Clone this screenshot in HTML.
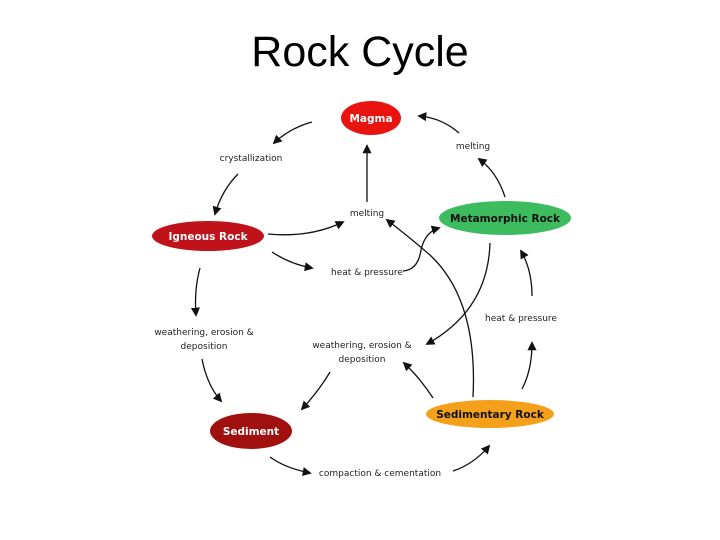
<!DOCTYPE html>
<html><head><style>
body{margin:0;background:#fff;width:720px;height:540px;overflow:hidden}
svg{display:block}
.t{font-family:"DejaVu Sans","Liberation Sans",sans-serif;font-size:9px;fill:#222}
.n{font-family:"DejaVu Sans","Liberation Sans",sans-serif;font-size:10.5px;font-weight:bold}
path.a{fill:none;stroke:#111;stroke-width:1.3;marker-end:url(#ah)}
</style></head><body>
<svg width="720" height="540" viewBox="0 0 720 540">
<defs><marker id="ah" viewBox="0 0 10 10" refX="8" refY="5" markerWidth="7" markerHeight="7" orient="auto"><path d="M0,0L10,5L0,10z" fill="#111"/></marker></defs>
<text x="360" y="66" text-anchor="middle" font-family="Liberation Sans,Arial,sans-serif" font-size="43">Rock Cycle</text>

<ellipse cx="371" cy="118" rx="30" ry="17" fill="#e8140f"/>
<text class="n" x="371" y="122" text-anchor="middle" fill="#fff">Magma</text>
<ellipse cx="208" cy="236" rx="56" ry="15" fill="#c0121a"/>
<text class="n" x="208" y="240" text-anchor="middle" fill="#fff">Igneous Rock</text>
<ellipse cx="505" cy="218" rx="66" ry="17" fill="#3dbb5f"/>
<text class="n" x="505" y="222" text-anchor="middle" fill="#111">Metamorphic Rock</text>
<ellipse cx="251" cy="431" rx="41" ry="18" fill="#a0100e"/>
<text class="n" x="251" y="435" text-anchor="middle" fill="#fff">Sediment</text>
<ellipse cx="490" cy="414" rx="64" ry="14" fill="#f5a01a"/>
<text class="n" x="490" y="418" text-anchor="middle" fill="#111">Sedimentary Rock</text>

<text class="t" x="251" y="161" text-anchor="middle">crystallization</text>
<text class="t" x="367" y="216" text-anchor="middle">melting</text>
<text class="t" x="473" y="149" text-anchor="middle">melting</text>
<text class="t" x="367" y="275" text-anchor="middle">heat &amp; pressure</text>
<text class="t" x="521" y="321" text-anchor="middle">heat &amp; pressure</text>
<text class="t" x="204" y="335" text-anchor="middle">weathering, erosion &amp;</text>
<text class="t" x="204" y="349" text-anchor="middle">deposition</text>
<text class="t" x="362" y="348" text-anchor="middle">weathering, erosion &amp;</text>
<text class="t" x="362" y="362" text-anchor="middle">deposition</text>
<text class="t" x="380" y="476" text-anchor="middle">compaction &amp; cementation</text>

<path class="a" d="M312,122 Q290,128 274,143"/>
<path class="a" d="M238,174 Q222,190 215,214"/>
<path class="a" d="M268,234 Q310,238 343,222"/>
<path class="a" d="M272,252 Q290,264 312,268"/>
<path class="a" d="M367,202 L367,146"/>
<path class="a" d="M403,271 Q418,270 421,250 Q425,232 439,228"/>
<path class="a" d="M505,197 Q497,172 479,159"/>
<path class="a" d="M459,133 Q442,118 419,116"/>
<path class="a" d="M473,397 Q478,300 430,255 Q408,236 387,220"/>
<path class="a" d="M490,243 Q488,310 427,344"/>
<path class="a" d="M522,389 Q532,370 532,343"/>
<path class="a" d="M532,296 Q532,270 521,251"/>
<path class="a" d="M433,398 Q420,378 404,363"/>
<path class="a" d="M330,372 Q318,392 302,409"/>
<path class="a" d="M200,268 Q194,290 196,315"/>
<path class="a" d="M202,359 Q207,385 221,401"/>
<path class="a" d="M270,457 Q285,468 310,473"/>
<path class="a" d="M453,471 Q474,464 489,446"/>
</svg>
</body></html>
